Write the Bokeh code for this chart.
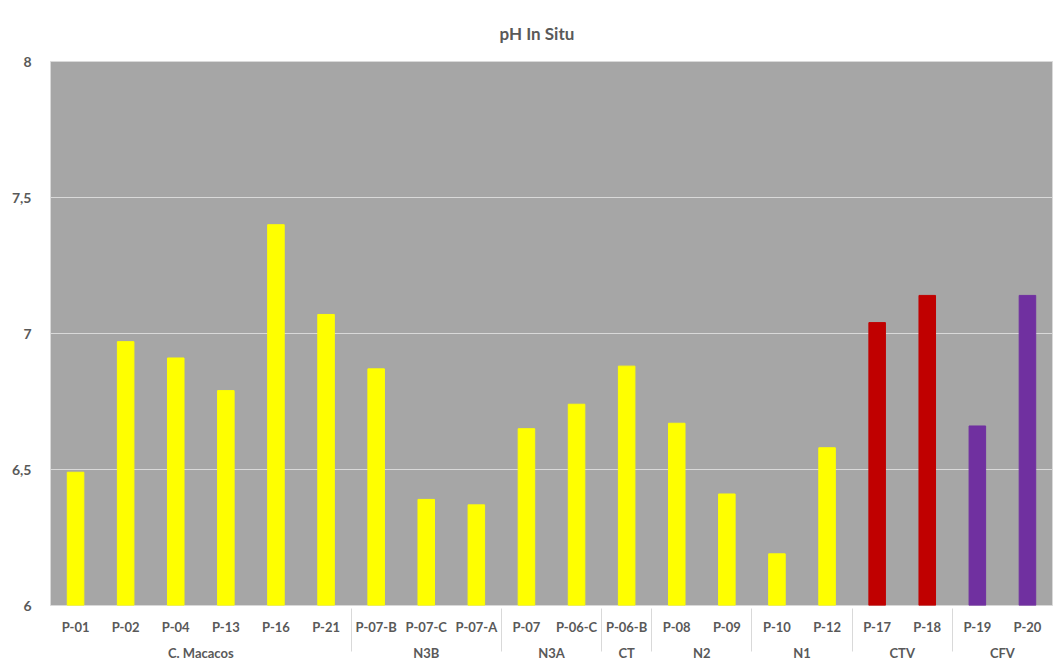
from bokeh.plotting import figure
from bokeh.models import FactorRange, Range1d, FixedTicker, CustomJSTickFormatter, ColumnDataSource
from bokeh.embed import file_html
from bokeh.resources import INLINE

groups = ["C. Macacos"] * 6 + ["N3B"] * 3 + ["N3A"] * 2 + ["CT"] + ["N2"] * 2 + ["N1"] * 2 + ["CTV"] * 2 + ["CFV"] * 2
samples = ["P-01", "P-02", "P-04", "P-13", "P-16", "P-21",
           "P-07-B", "P-07-C", "P-07-A",
           "P-07", "P-06-C",
           "P-06-B",
           "P-08", "P-09",
           "P-10", "P-12",
           "P-17", "P-18",
           "P-19", "P-20"]
ph_values = [6.49, 6.97, 6.91, 6.79, 7.40, 7.07,
             6.87, 6.39, 6.37,
             6.65, 6.74,
             6.88,
             6.67, 6.41,
             6.19, 6.58,
             7.04, 7.14,
             6.66, 7.14]
y_ticks = [6, 6.5, 7, 7.5, 8]

group_colors = {"CTV": "#c00000", "CFV": "#7030a0"}
default_color = "#ffff00"

factors = list(zip(groups, samples))
colors = [group_colors.get(g, default_color) for g in groups]
src = ColumnDataSource(dict(x=factors, top=ph_values, color=colors))

FONT = "Lato"
GREY = "#595959"

p = figure(
    x_range=FactorRange(*factors, group_padding=0, factor_padding=0, range_padding=0),
    y_range=Range1d(6, 8),
    width=1058, height=664,
    output_backend="svg", toolbar_location=None,
    min_border_left=50, min_border_right=6, min_border_top=61, min_border_bottom=59,
    background_fill_color="#a6a6a6", border_fill_color="white",
    outline_line_color="#d9d9d9",
    title="pH In Situ",
)
p.title.align = "left"
p.title.offset = 449
p.title.text_font = FONT
p.title.text_font_size = "17px"
p.title.text_font_style = "bold"
p.title.text_color = GREY
p.title.standoff = 35

p.vbar(x="x", top="top", bottom=6, width=0.33, color="color", source=src)

p.yaxis.ticker = FixedTicker(ticks=y_ticks)
p.yaxis.formatter = CustomJSTickFormatter(code="return tick.toString().replace('.', ',');")
p.yaxis.axis_line_color = None
p.yaxis.major_tick_line_color = None
p.yaxis.minor_tick_line_color = None
p.yaxis.major_label_standoff = 13
p.yaxis.major_label_text_font = FONT
p.yaxis.major_label_text_font_size = "14px"
p.yaxis.major_label_text_font_style = "bold"
p.yaxis.major_label_text_color = GREY

p.xaxis.axis_line_color = None
p.xaxis.major_tick_line_color = None
p.xaxis.minor_tick_line_color = None
p.xaxis.major_label_standoff = 7
p.xaxis.major_label_text_font = FONT
p.xaxis.major_label_text_font_size = "13px"
p.xaxis.major_label_text_font_style = "bold"
p.xaxis.major_label_text_color = GREY
p.xaxis.group_text_font = FONT
p.xaxis.group_text_font_size = "13px"
p.xaxis.group_text_font_style = "bold"
p.xaxis.group_text_color = GREY
p.xaxis.separator_line_color = "#d9d9d9"
p.xaxis.separator_line_width = 1

p.xgrid.grid_line_color = None
p.ygrid.grid_line_color = "#d9d9d9"
p.ygrid.grid_line_width = 1

open("out.html", "w").write(file_html(p, INLINE))
